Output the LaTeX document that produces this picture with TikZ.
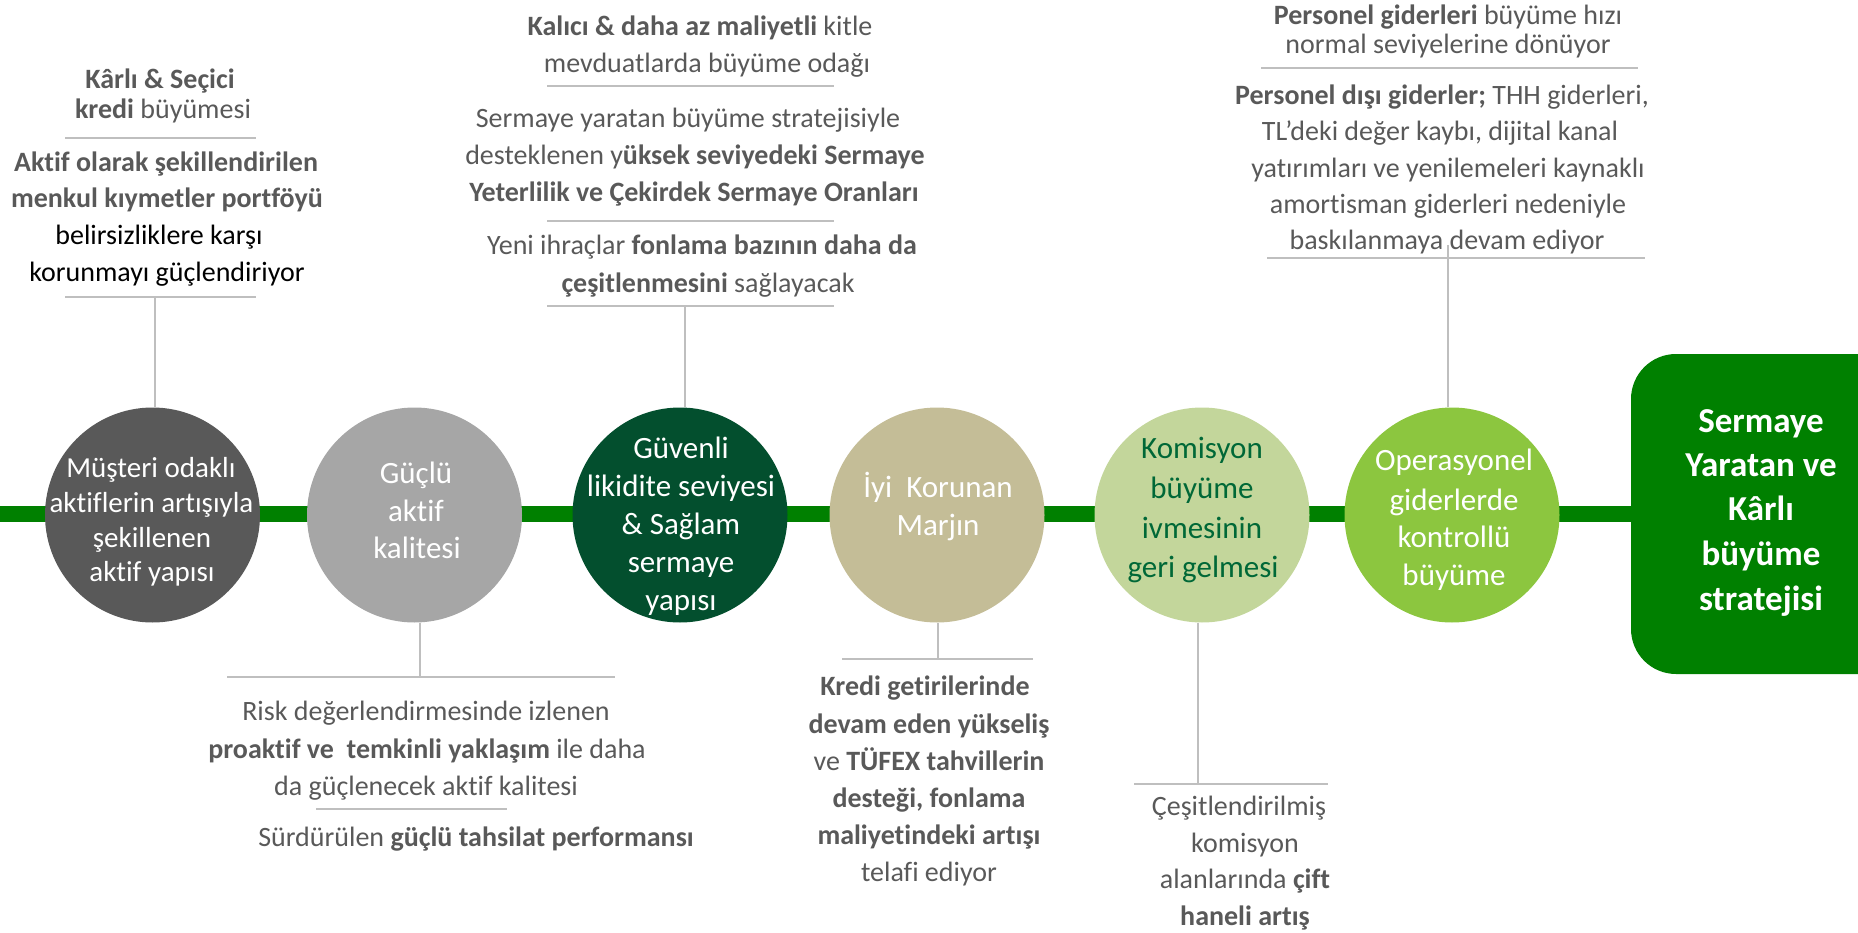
\documentclass[tikz,border=0pt]{standalone}
\usepackage{fontspec}
\setmainfont{Carlito}[Ligatures={NoCommon}]
\definecolor{bargreen}{HTML}{008000}
\definecolor{cdark}{HTML}{595959}
\definecolor{clight}{HTML}{A6A6A6}
\definecolor{cforest}{HTML}{034F2E}
\definecolor{ctan}{HTML}{C4BD97}
\definecolor{cpale}{HTML}{C3D69B}
\definecolor{cpaletext}{HTML}{006837}
\definecolor{clime}{HTML}{8CC63F}
\definecolor{linegray}{HTML}{BFBFBF}
\definecolor{txtgray}{HTML}{595959}
\begin{document}
\begin{tikzpicture}[x=1pt,y=-1pt,
  ann/.style={font=\fontsize{28}{34}\selectfont, text=txtgray, anchor=base, inner sep=0pt},
  ctext/.style={font=\fontsize{31}{38}\selectfont, text=white, anchor=base, inner sep=0pt},
  ctextsmall/.style={font=\fontsize{29}{36}\selectfont, text=white, anchor=base, inner sep=0pt},
  gtext/.style={font=\fontsize{35}{44}\selectfont\bfseries, text=white, anchor=base, inner sep=0pt},
  circ/.style={circle, minimum size=215pt, inner sep=0pt, draw=none},
  sepline/.style={draw=linegray, line width=2.7pt},
  conn/.style={draw=linegray, line width=2.7pt},
  bar/.style={draw=bargreen, line width=16pt},
  goalbox/.style={fill=bargreen, rounded corners=45pt, minimum width=300pt, minimum height=320pt, inner sep=0pt}
]
\useasboundingbox (0,0) rectangle (1858,933);
\clip (0,0) rectangle (1858,933);

% goal box and main bar
\node[goalbox] (goal) at (1781,514) {};
\coordinate (barstart) at (0,514);
\draw[bar] (barstart) -- (goal.west);

% circles
\node[circ, fill=cdark]  (c1) at (152.5,515) {};
\node[circ, fill=clight] (c2) at (414.5,515) {};
\node[circ, fill=cforest] (c3) at (680,515) {};
\node[circ, fill=ctan]   (c4) at (937,515) {};
\node[circ, fill=cpale]  (c5) at (1202,515) {};
\node[circ, fill=clime]  (c6) at (1452,515) {};

% circle texts
\node[ctextsmall] (c1a) at (151,477) {Müşteri odaklı};
\node[ctextsmall] (c1b) at (151.5,512) {aktiflerin artışıyla};
\node[ctextsmall] (c1c) at (152,547) {şekillenen};
\node[ctextsmall] (c1d) at (152,581) {aktif yapısı};

\node[ctext] (c2a) at (416,483) {Güçlü};
\node[ctext] (c2b) at (416,521) {aktif};
\node[ctext] (c2c) at (417,558) {kalitesi};

\node[ctext] (c3a) at (681,458) {Güvenli};
\node[ctext] (c3b) at (681,496) {likidite seviyesi};
\node[ctext] (c3c) at (681,534) {\& Sağlam};
\node[ctext] (c3d) at (681,572) {sermaye};
\node[ctext] (c3e) at (681,610) {yapısı};

\node[ctext] (c4a) at (938,497) {İyi\ \ Korunan};
\node[ctext] (c4b) at (938,535) {Marjın};

\node[ctext, text=cpaletext] (c5a) at (1202,458) {Komisyon};
\node[ctext, text=cpaletext] (c5b) at (1202,498) {büyüme};
\node[ctext, text=cpaletext] (c5c) at (1202,538) {ivmesinin};
\node[ctext, text=cpaletext] (c5d) at (1203,577) {geri gelmesi};

\node[ctext] (c6a) at (1454,470) {Operasyonel};
\node[ctext] (c6b) at (1454,510) {giderlerde};
\node[ctext] (c6c) at (1454,547) {kontrollü};
\node[ctext] (c6d) at (1454,585) {büyüme};

% goal text
\node[gtext] (g1) at (1761,432) {Sermaye};
\node[gtext] (g2) at (1761,476) {Yaratan ve};
\node[gtext] (g3) at (1761,520) {Kârlı};
\node[gtext] (g4) at (1761,565) {büyüme};
\node[gtext] (g5) at (1761,610) {stratejisi};

% ---------- column 1 (top) ----------
\node[ann] (k1) at (160,89) {\textbf{Kârlı \& Seçici}};
\node[ann] (k2) at (163,119) {\textbf{kredi} büyümesi};
\coordinate (s1aL) at (65,138); \coordinate (s1aR) at (256,138);
\draw[sepline] (s1aL) -- (s1aR);
\node[ann] (k3) at (166,172) {\textbf{Aktif olarak şekillendirilen}};
\node[ann] (k4) at (167,208) {\textbf{menkul kıymetler portföyü}};
\node[ann, text=black] (k5) at (159,245) {belirsizliklere karşı};
\node[ann, text=black] (k6) at (167,282) {korunmayı güçlendiriyor};
\coordinate (s1bL) at (65,297); \coordinate (s1bR) at (256,297);
\draw[sepline] (s1bL) -- (s1bR);
\coordinate (k1conn) at (155,297);
\draw[conn] (k1conn) -- (k1conn |- c1.north);

% ---------- column 3 (top) ----------
\node[ann] (m1) at (700,36) {\textbf{Kalıcı \& daha az maliyetli} kitle};
\node[ann] (m2) at (707,73) {mevduatlarda büyüme odağı};
\coordinate (s3aL) at (547,86); \coordinate (s3aR) at (834,86);
\draw[sepline] (s3aL) -- (s3aR);
\node[ann] (m3) at (688,128) {Sermaye yaratan büyüme stratejisiyle};
\node[ann] (m4) at (695,165) {desteklenen y\textbf{üksek seviyedeki Sermaye}};
\node[ann] (m5) at (694,202) {\textbf{Yeterlilik ve Çekirdek Sermaye Oranları}};
\coordinate (s3bL) at (547,221); \coordinate (s3bR) at (834,221);
\draw[sepline] (s3bL) -- (s3bR);
\node[ann] (m6) at (702,255) {Yeni ihraçlar \textbf{fonlama bazının daha da}};
\node[ann] (m7) at (708,293) {\textbf{çeşitlenmesini} sağlayacak};
\coordinate (s3cL) at (547,306); \coordinate (s3cR) at (834,306);
\draw[sepline] (s3cL) -- (s3cR);
\coordinate (m3conn) at (685,306);
\draw[conn] (m3conn) -- (m3conn |- c3.north);

% ---------- column 6 (top) ----------
\node[ann] (p1) at (1448,25) {\textbf{Personel giderleri} büyüme hızı};
\node[ann] (p2) at (1448,54) {normal seviyelerine dönüyor};
\coordinate (s6aL) at (1261,68); \coordinate (s6aR) at (1638,68);
\draw[sepline] (s6aL) -- (s6aR);
\node[ann] (p3) at (1442,105) {\textbf{Personel dışı giderler;} THH giderleri,};
\node[ann] (p4) at (1440,141) {TL’deki değer kaybı, dijital kanal};
\node[ann] (p5) at (1448,178) {yatırımları ve yenilemeleri kaynaklı};
\node[ann] (p6) at (1448,214) {amortisman giderleri nedeniyle};
\node[ann] (p7) at (1447,250) {baskılanmaya devam ediyor};
\coordinate (s6bL) at (1267,258); \coordinate (s6bR) at (1645,258);
\draw[sepline] (s6bL) -- (s6bR);
\coordinate (p6conn) at (1448,245);
\draw[conn] (p6conn) -- (p6conn |- c6.north);

% ---------- column 2 (bottom) ----------
\coordinate (r2conn) at (420,677);
\draw[conn] (r2conn |- c2.south) -- (r2conn);
\coordinate (s2aL) at (227,677); \coordinate (s2aR) at (615,677);
\draw[sepline] (s2aL) -- (s2aR);
\node[ann] (r1) at (426,720) {Risk değerlendirmesinde izlenen};
\node[ann] (r2) at (427,758) {\textbf{proaktif ve\ \ temkinli yaklaşım} ile daha};
\node[ann] (r3) at (426,795) {da güçlenecek aktif kalitesi};
\coordinate (s2bL) at (316,809); \coordinate (s2bR) at (507,809);
\draw[sepline] (s2bL) -- (s2bR);
\node[ann] (r4) at (476,846) {Sürdürülen \textbf{güçlü tahsilat performansı}};

% ---------- column 4 (bottom) ----------
\coordinate (n4conn) at (938,659);
\draw[conn] (n4conn |- c4.south) -- (n4conn);
\coordinate (s4L) at (842,659); \coordinate (s4R) at (1033,659);
\draw[sepline] (s4L) -- (s4R);
\node[ann] (n1) at (925,695) {\textbf{Kredi getirilerinde}};
\node[ann] (n2) at (929,733) {\textbf{devam eden yükseliş}};
\node[ann] (n3) at (929,770) {ve \textbf{TÜFEX tahvillerin}};
\node[ann] (n4) at (929,807) {\textbf{desteği, fonlama}};
\node[ann] (n5) at (929,844) {\textbf{maliyetindeki artışı}};
\node[ann] (n6) at (929,881) {telafi ediyor};

% ---------- column 5 (bottom) ----------
\coordinate (q5conn) at (1198,784);
\draw[conn] (q5conn |- c5.south) -- (q5conn);
\coordinate (s5L) at (1134,784); \coordinate (s5R) at (1328,784);
\draw[sepline] (s5L) -- (s5R);
\node[ann] (q1) at (1239,815) {Çeşitlendirilmiş};
\node[ann] (q2) at (1245,852) {komisyon};
\node[ann] (q3) at (1245,888) {alanlarında \textbf{çift}};
\node[ann] (q4) at (1245,925) {\textbf{haneli artış}};
\end{tikzpicture}
\end{document}
